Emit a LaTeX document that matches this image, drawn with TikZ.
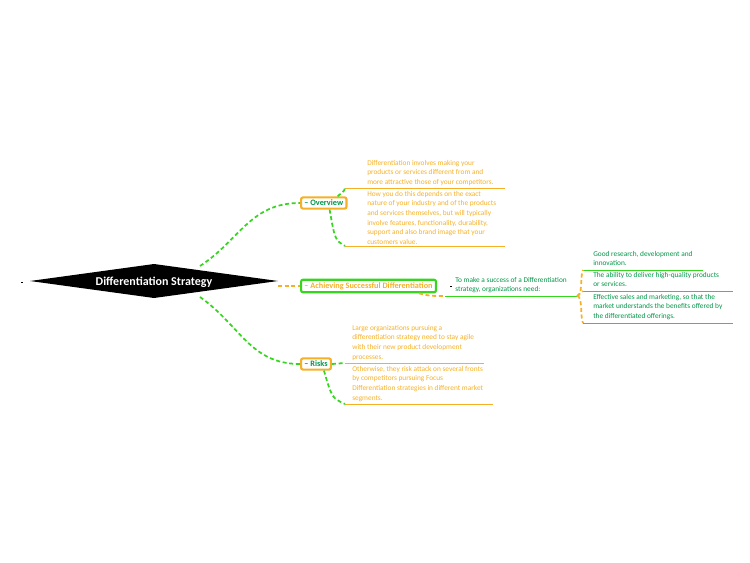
\documentclass[tikz,border=0pt]{standalone}
\usepackage{fontspec}
\setmainfont{Carlito}
\definecolor{leaf}{RGB}{246,176,38}
\definecolor{branch}{RGB}{52,214,30}
\definecolor{topic}{RGB}{0,150,70}
\tikzset{
  note/.style={anchor=north west,inner sep=0pt,align=left,font=\fontsize{5.5}{7.2}\selectfont},
  topicbox/.style={draw=leaf,line width=1.6pt,rounded corners=1.5pt,inner xsep=2.5pt,inner ysep=2pt,font=\bfseries\fontsize{6.2}{7}\selectfont,text=topic},
  link/.style={branch,dashed,line width=1.3pt,dash pattern=on 3pt off 2pt},
  olink/.style={leaf,dashed,line width=1.3pt,dash pattern=on 3pt off 2pt},
}
\begin{document}
\begin{tikzpicture}[x=0.75pt,y=-0.75pt]
\useasboundingbox (0,0) rectangle (750,563);
% central topic
\fill (30,281) -- (154,264) -- (278,281) -- (154,298) -- cycle;
\node (root) at (154,282) {\textcolor{white}{\bfseries\fontsize{9}{10}\selectfont Differentiation Strategy}};
\draw (21,282) -- (23,282);
% main topics
\node[topicbox,anchor=west] (ov) at (300,203) {-- Overview};
\node[topicbox,anchor=west,draw=branch,text=leaf] (ach) at (300,286) {-- Achieving Successful Differentiation};
\node[topicbox,anchor=west] (rk) at (300,364) {-- Risks};
\draw[link] (200,266) .. controls (240,240) and (250,203) .. (ov.west);
\draw[olink] (278,286) -- (ach.west);
\draw[link] (200,297) .. controls (240,325) and (250,364) .. (rk.west);
% overview notes
\coordinate (o1) at (345,188);
\coordinate (o2) at (345,246);
\draw[leaf,thin] (o1) -- (505,188);
\draw[leaf,thin] (o2) -- (505,246);
\node[note,text=leaf] (o1t) at (367,160) {Differentiation involves making your\\products or services different from and\\more attractive those of your competitors.};
\node[note,text=leaf] (o2t) at (367,191) {How you do this depends on the exact\\nature of your industry and of the products\\and services themselves, but will typically\\involve features, functionality, durability,\\support and also brand image that your\\customers value.};
\draw[link] (ov.north east) ++(-10,0) .. controls (345,190) .. (o1);
\draw[link] (ov.south east) ++(-18,0) .. controls (335,240) .. (o2);
% achieving notes
\coordinate (a0) at (445,296);
\coordinate (a1) at (577,296);
\draw[olink] (ach.south east) ++(-18,0) .. controls (430,296) .. (a0);
\draw[branch,thin] (a0) -- (a1);
\draw (450,286) -- (452,286);
\node[note,text=topic] (a0t) at (455,277) {To make a success of a Differentiation\\strategy, organizations need:};
\coordinate (b1) at (583,270);
\coordinate (b2) at (583,291);
\coordinate (b3) at (583,323);
\draw[branch,thin] (b1) -- (703,270);
\draw[branch,thin] (b2) -- (733,291);
\draw[branch,thin] (b3) -- (733,323);
\draw[olink] (a1) .. controls (583,296) and (580,275) .. (b1);
\draw[olink] (a1) -- (b2);
\draw[olink] (a1) .. controls (583,296) and (580,318) .. (b3);
\node[note,text=topic] (b1t) at (593,251) {Good research, development and\\innovation.};
\node[note,text=topic] (b2t) at (593,272) {The ability to deliver high-quality products\\or services.};
\node[note,text=topic] (b3t) at (593,294) {Effective sales and marketing, so that the\\market understands the benefits offered by\\the differentiated offerings.};
% risks notes
\coordinate (r1) at (345,363);
\coordinate (r2) at (345,404);
\draw[leaf,thin] (r1) -- (484,363);
\draw[leaf,thin] (r2) -- (493,404);
\node[note,text=leaf] (r1t) at (352,325) {Large organizations pursuing a\\differentiation strategy need to stay agile\\with their new product development\\processes.};
\node[note,text=leaf] (r2t) at (352,366) {Otherwise, they risk attack on several fronts\\by competitors pursuing Focus\\Differentiation strategies in different market\\segments.};
\draw[link] (rk.east) -- (r1);
\draw[link] (rk.south east) ++(-8,0) .. controls (332,398) .. (r2);
\end{tikzpicture}
\end{document}
